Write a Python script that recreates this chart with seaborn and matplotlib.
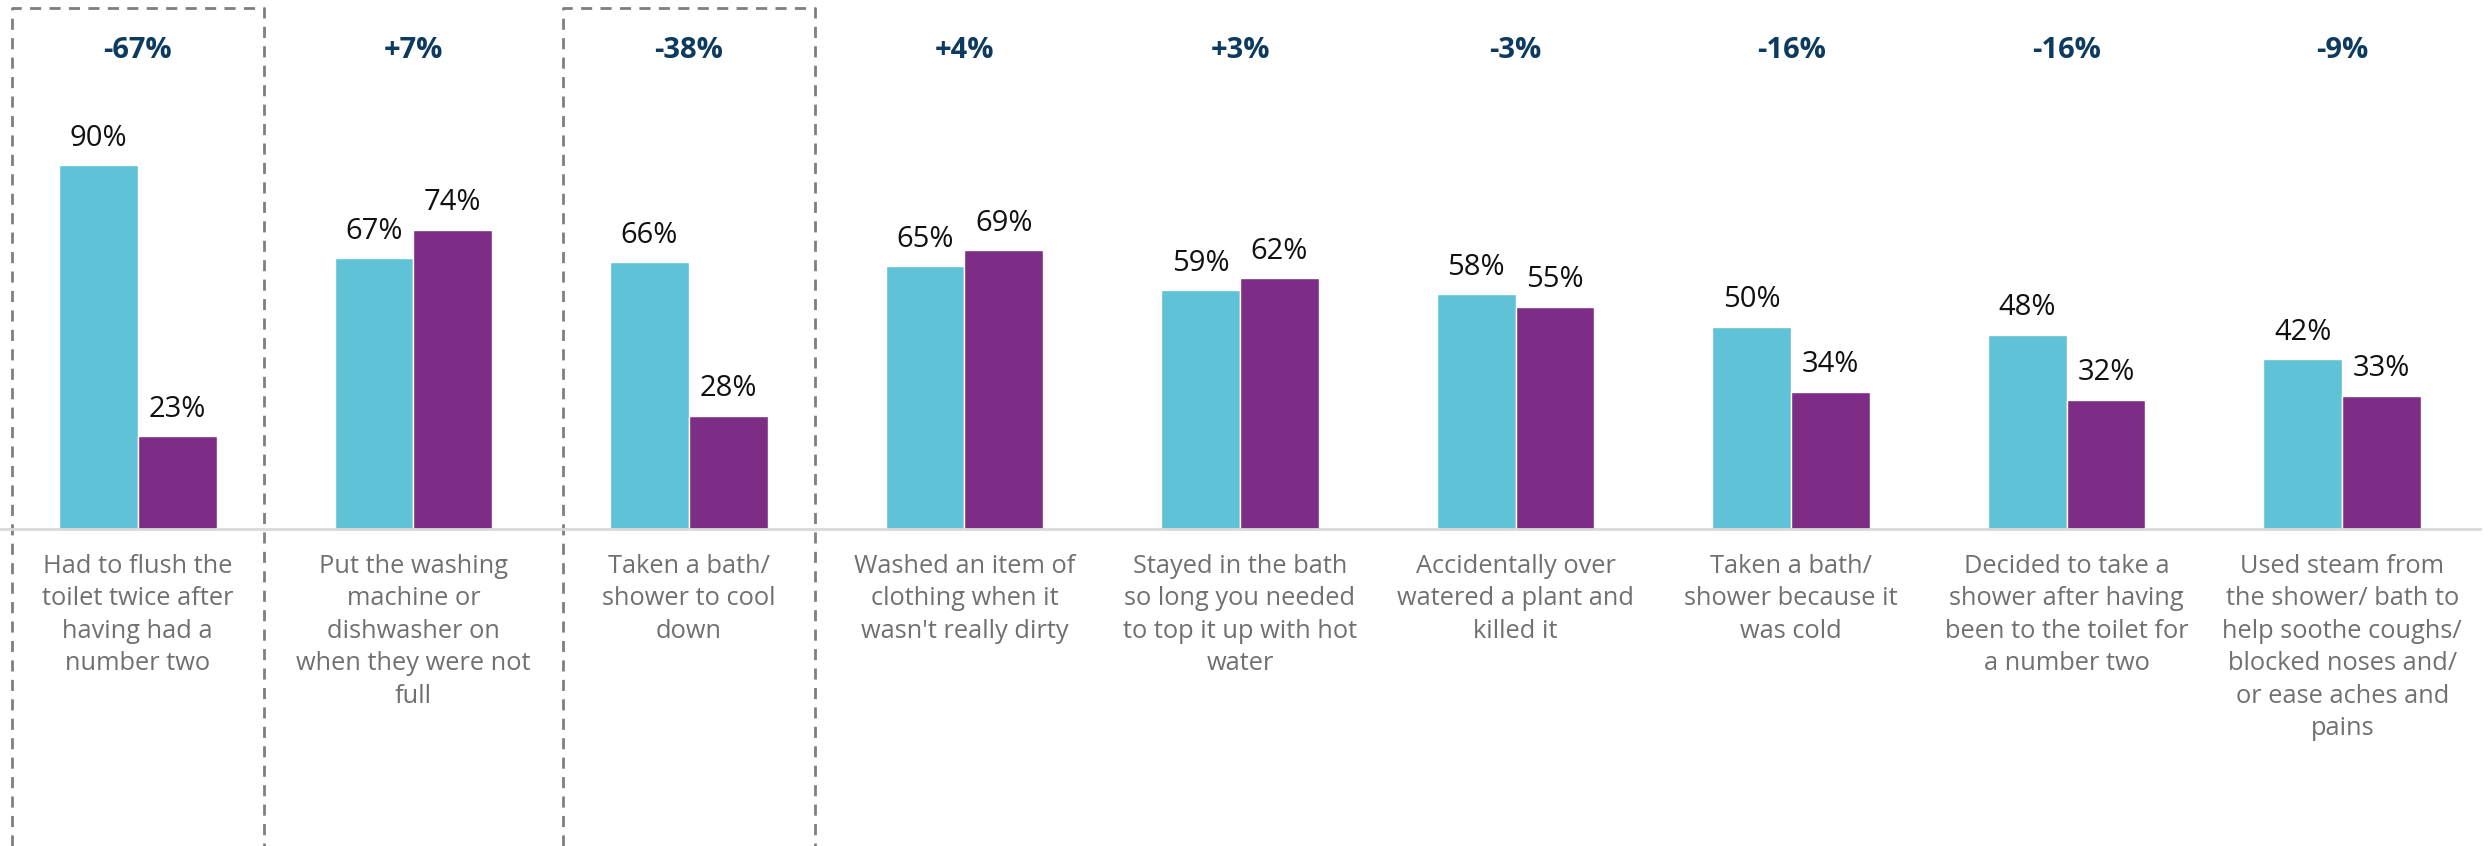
import matplotlib
matplotlib.use("Agg")
import matplotlib.pyplot as plt
import matplotlib.transforms as mtransforms
import seaborn as sns
import pandas as pd

# Survey categories (wrapped as displayed under each group)
categories = [
    "Had to flush the\ntoilet twice after\nhaving had a\nnumber two",
    "Put the washing\nmachine or\ndishwasher on\nwhen they were not\nfull",
    "Taken a bath/\nshower to cool\ndown",
    "Washed an item of\nclothing when it\nwasn't really dirty",
    "Stayed in the bath\nso long you needed\nto top it up with hot\nwater",
    "Accidentally over\nwatered a plant and\nkilled it",
    "Taken a bath/\nshower because it\nwas cold",
    "Decided to take a\nshower after having\nbeen to the toilet for\na number two",
    "Used steam from\nthe shower/ bath to\nhelp soothe coughs/\nblocked noses and/\nor ease aches and\npains",
]
series_a = [90, 67, 66, 65, 59, 58, 50, 48, 42]
series_b = [23, 74, 28, 69, 62, 55, 34, 32, 33]
series_names = ["Series A", "Series B"]
highlighted = [0, 2]  # groups framed with a dashed box

CYAN = "#5FC2D7"
PURPLE = "#7D2D86"
NAVY = "#0D3A5F"
GREY_TXT = "#707070"

df = pd.DataFrame({
    "category": categories * 2,
    "series": [series_names[0]] * len(categories) + [series_names[1]] * len(categories),
    "value": series_a + series_b,
})

sns.set_theme(style="white")
plt.rcParams["font.family"] = ["Open Sans", "DejaVu Sans"]

W, H, DPI = 2491, 846, 100
fig = plt.figure(figsize=(W / DPI, H / DPI), dpi=DPI)
base_y = 1 - 529 / H
ax = fig.add_axes([0.0, base_y, 2480 / W, 1 - base_y])

sns.barplot(data=df, x="category", y="value", hue="series", order=categories,
            hue_order=series_names, palette=[CYAN, PURPLE], width=0.572,
            saturation=1, ax=ax, legend=False, errorbar=None)

px_per_unit = 4.044
ax.set_ylim(0, 529 / px_per_unit)
ax.set_xlim(-0.5, len(categories) - 0.5)
ax.set_xlabel("")
ax.set_ylabel("")
ax.set_yticks([])
for s in ["top", "right", "left"]:
    ax.spines[s].set_visible(False)
ax.spines["bottom"].set_color("#D9D9D9")
ax.spines["bottom"].set_linewidth(2)
ax.tick_params(axis="x", length=0, pad=18)
ax.set_xticks(range(len(categories)))
ax.set_xticklabels(categories, fontsize=18.3, color=GREY_TXT, linespacing=1.39,
                   va="top")

# Value labels above each bar
for cont in ax.containers:
    for bar in cont:
        h = bar.get_height()
        ax.annotate(f"{h:.0f}%", (bar.get_x() + bar.get_width() / 2, h),
                    xytext=(0, 14), textcoords="offset points",
                    ha="center", va="baseline", fontsize=21, color="#111111")

# Change between the two series, shown at the top of each group
for i, (a, b) in enumerate(zip(series_a, series_b)):
    d = b - a
    ax.text(i, (529 - 50) / px_per_unit, f"{d:+d}%", ha="center", va="center",
            fontsize=21, fontweight="bold", color=NAVY)

# Dashed frames around highlighted groups, running past the axis to the bottom
trans = mtransforms.blended_transform_factory(ax.transData, fig.transFigure)
half = 0.457
top = 1 - 8 / H
for i in highlighted:
    xs = [i - half, i - half, i + half, i + half]
    ys = [0.0, top, top, 0.0]
    ax.plot(xs, ys, transform=trans, clip_on=False, color="#7F7F7F",
            lw=2, ls=(0, (4, 3)))

fig.savefig("out.png", dpi=DPI, facecolor="white")
